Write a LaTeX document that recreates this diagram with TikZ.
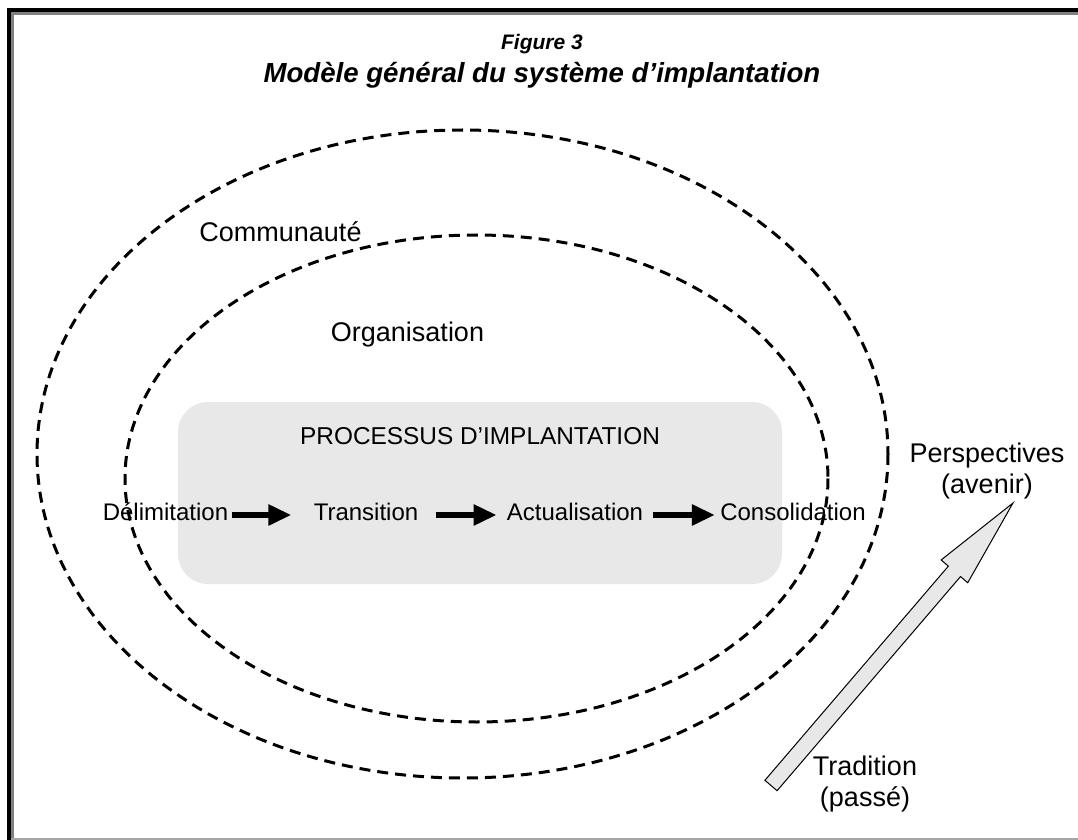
\documentclass[tikz,border=0pt]{standalone}
\usepackage{fontspec}
\setmainfont{Liberation Sans}
\usetikzlibrary{arrows.meta,calc}
\definecolor{panel}{RGB}{232,232,232}
\definecolor{rim}{RGB}{128,128,128}
\definecolor{rimlight}{RGB}{165,165,165}
\begin{document}
\begin{tikzpicture}[x=0.5pt,y=-0.5pt,
  zone/.style={draw, line width=1.5pt, dash pattern=on 5.5pt off 3.5pt},
  lbl/.style={font=\fontsize{13.5}{15.5}\selectfont, inner sep=0pt},
  stage/.style={font=\fontsize{12}{14}\selectfont, inner sep=0pt,
                text height=8.5pt, text depth=3.5pt},
  flow/.style={line width=2.8pt, -{Triangle[length=11.5pt,width=10pt]}},
  heading/.style={font=\bfseries\itshape, inner sep=0pt}
]
\useasboundingbox (0,0) rectangle (1078,840);

% page frame with its shadow line
\fill (7,8) rectangle (1078,12.3);
\fill (7,8) rectangle (11,840);
\fill[rim] (11,12.3) rectangle (1078,15.5);
\fill[rim] (11,12.3) rectangle (14,840);
\fill[rimlight] (11,838) rectangle (1078,840);

% title
\node[heading, font=\fontsize{10.5}{12}\selectfont\bfseries\itshape, anchor=base] (fignum) at (542,50) {Figure 3};
\node[heading, font=\fontsize{13.8}{16}\selectfont\bfseries\itshape, anchor=base] (title) at (542,83) {Modèle général du système d’implantation};

% nested zones
\draw[zone] (462.5,454) ellipse [x radius=425.5, y radius=324];
\draw[zone] (476.5,478.5) ellipse [x radius=351.5, y radius=243.5];

\node[lbl, anchor=base] (community) at (280.5,241.7) {Communauté};
\node[lbl, anchor=base] (organisation) at (407.5,341.7) {Organisation};

% implementation process panel
\node[fill=panel, rounded corners=15pt, minimum width=302pt, minimum height=91pt, inner sep=0pt] (process) at (480,493) {};
\node[stage, font=\fontsize{12.2}{14}\selectfont, anchor=base] (processlabel) at (480,444.5) {PROCESSUS D’IMPLANTATION};

\node[stage] (delim) at (165.5,515) {Délimitation};
\node[stage] (trans) at (366,515) {Transition};
\node[stage] (actual) at (575,515) {Actualisation};
\node[stage] (consol) at (793,515) {Consolidation};

\draw[flow, shorten <=1.5pt, shorten >=11pt] (delim) -- (trans);
\draw[flow, shorten <=8.5pt, shorten >=5pt] (trans) -- (actual);
\draw[flow, shorten <=5pt, shorten >=2.5pt] (actual) -- (consol);

% time axis: from tradition (past) towards perspectives (future)
\coordinate (tail) at (771,785.5);
\coordinate (tip) at (1013,503);
\coordinate (neck) at ($(tip)!45pt!(tail)$);
\filldraw[fill=panel, line width=0.5pt, line join=miter]
  ($(tail)!4pt!90:(tip)$) -- ($(neck)!4pt!-90:(tail)$) -- ($(neck)!8.75pt!-90:(tail)$)
  -- (tip) -- ($(neck)!8.75pt!90:(tail)$) -- ($(neck)!4pt!90:(tail)$)
  -- ($(tail)!4pt!-90:(tip)$) -- cycle;

\node[lbl, align=center, anchor=base] (future) at (987,493) {Perspectives\\(avenir)};
\node[lbl, align=center, anchor=base] (past) at (865,806) {Tradition\\(passé)};
\end{tikzpicture}
\end{document}
